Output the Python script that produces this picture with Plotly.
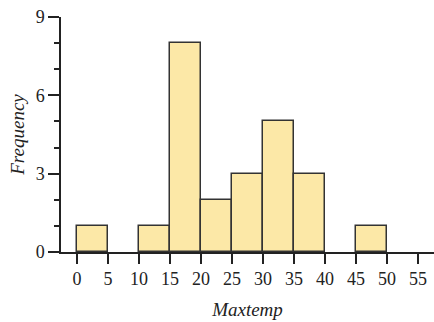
import plotly.graph_objects as go

bin_starts = [0, 10, 15, 20, 25, 30, 35, 45]
counts = [1, 1, 8, 2, 3, 5, 3, 1]
bin_width = 5
x_ticks = [0, 5, 10, 15, 20, 25, 30, 35, 40, 45, 50, 55]

font_family = "Times New Roman, Liberation Serif, serif"

fig = go.Figure()
fig.add_trace(go.Bar(
    x=[s + bin_width / 2 for s in bin_starts],
    y=counts,
    width=[bin_width] * len(bin_starts),
    marker=dict(color="#FCE8A7", line=dict(color="#333333", width=1.5)),
    showlegend=False,
))

fig.update_layout(
    width=434, height=322,
    margin=dict(l=61, r=0, t=17, b=70, autoexpand=False),
    plot_bgcolor="white", paper_bgcolor="white",
    font=dict(family=font_family, size=18, color="#222222"),
    bargap=0,
)
fig.update_xaxes(
    range=[-2.6, 57.6], tickvals=x_ticks, ticktext=[str(v) for v in x_ticks],
    showgrid=False, zeroline=False, showline=True, linecolor="#222222", linewidth=1.5,
    ticks="outside", ticklen=10, tickwidth=1.5, tickcolor="#222222",
    title=dict(text="<i>Maxtemp</i>", font=dict(size=19), standoff=14),
    tickfont=dict(size=18), automargin=False,
)
fig.update_yaxes(
    range=[0, 9], tickvals=[0, 3, 6, 9],
    showgrid=False, zeroline=False, showline=True, linecolor="#222222", linewidth=1.5,
    ticks="outside", ticklen=11, tickwidth=1.5, tickcolor="#222222",
    minor=dict(dtick=1, ticks="outside", ticklen=5, tickwidth=1.5, tickcolor="#222222"),
    title=dict(text="<i>Frequency</i>", font=dict(size=19), standoff=6),
    tickfont=dict(size=18), automargin=False,
)

fig.write_html(
    "out.html",
    config={"displayModeBar": False},
    post_script="document.body.style.margin='0px';document.body.style.overflow='hidden';",
)
